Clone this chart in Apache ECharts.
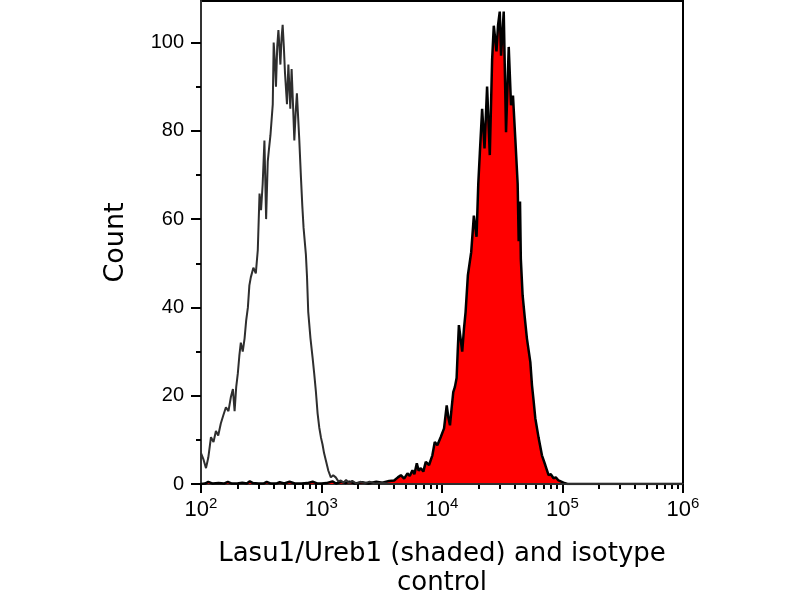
<!DOCTYPE html>
<html>
<head>
<meta charset="utf-8">
<script src="https://cdn.jsdelivr.net/npm/echarts@6/dist/echarts.min.js"></script>
<style>html,body{margin:0;padding:0;background:#fff}#c{width:800px;height:600px}</style>
</head>
<body>
<div id="c"></div>
<script>
// Isotype control (unshaded outline): intensity, count
const isoX = [100,105,110,115,121,127,133,139,146,153,161,169,177,184,190,196,202,208,214,222,230,237,245,252,259,272,285,296,306,315,325,336,347,358,367,377,394,401,410,419,429,439,456,466,476,487,498,517,531,551,565,580,595,610,625,654,675,693,710,742,758,776,810,843,870,898,928,958,990,1019,1050,1086,1140,1195,1250,1313,1380,1445,1520,1600,1700,1800,1950,2100,2300,2500,2800,3200,3700,5000,1000000];
const isoY = [7.0,5.5,3.6,6,10.6,9.5,12,11,13.7,15.5,17.4,16.5,19.7,21.5,16.5,22,25,29,32,30,33,37,40,45,46.8,49,47.7,53,65.8,62,68,77.8,60,73,76,79,86,100,96,90,99,102.8,95,101,104,99,93,86,95,85,94,86,77.8,84,88.5,78,69.5,63,58,52,47,39,33,28.7,25,21,16,12.8,10.5,9,7,5.4,3,1.5,2,1.5,0.6,0.8,0.3,0.9,0.2,0.7,0.1,0.5,0.2,0.5,0.1,0.3,0,0,0];
// Lasu1/Ureb1 (shaded): intensity, count
const posX = [100,108,115,125,140,155,167,180,200,220,240,254,270,300,330,351,380,420,450,490,543,600,680,760,845,930,1000,1100,1232,1320,1460,1580,1700,1900,2170,2450,2850,3200,3640,4009,4300,4557,4850,5170,5400,5685,5900,6180,6400,6670,7000,7335,7810,8320,8710,9150,9750,10400,10940,11300,11650,12000,12400,12800,13220,13500,13810,14720,15200,15700,16400,17470,18380,19350,20000,20610,21530,22540,23670,24930,26050,26900,28320,29200,30150,30910,32530,33990,35790,37400,38820,40620,42450,43280,44400,45100,46680,48500,50650,54080,55800,57500,59460,63400,67510,71940,76620,80000,84280,88000,92660,101900,110000,1000000];
const posY = [0,0.1,0.5,0.1,0.2,0.1,0.5,0.1,0.1,0.3,0.1,0.6,0.2,0.1,0.1,0.5,0.1,0.1,0.4,0.1,0.5,0.1,0.1,0.2,0.5,0.1,0.1,0.2,0.6,0.1,0.5,0.2,0.5,0.1,0.4,0.1,0.5,0.3,0.7,0.8,1.5,2,1.2,2.4,1.8,3.1,2.2,4.7,3.0,3.6,2.8,5,4.3,6.5,9.5,8.8,10.6,12.6,17.8,15,13.3,17,20.8,22,24,30,36,30,35,39,47.3,52.5,60.8,56,68,75,85,76,90,74.5,96,103.8,98,104,107,97,107,79.7,99,85.8,88,78,68,55,64,51,42.7,38,33,27.6,22.4,19,14.9,10.4,6.5,4.3,2,2.2,1.3,1.5,0.8,0.3,0,0];
const yMajorTicks = [0,20,40,60,80,100];
const yMinorTicks = [10,30,50,70,90];

const xMinor = [];
for (let d = 2; d < 6; d++) for (let k = 2; k <= 9; k++) xMinor.push(Math.log10(k * Math.pow(10, d)));

const zip = (a, b) => a.map((v, i) => [v, b[i]]);
const chart = echarts.init(document.getElementById('c'));
chart.setOption({
  animation: false,
  backgroundColor: '#fff',
  grid: { left: 201, right: 117, top: 1, bottom: 116, outerBoundsMode: 'none', containLabel: false, show: true, borderColor: '#000', borderWidth: 2, backgroundColor: 'transparent' },
  xAxis: [{
    type: 'log', logBase: 10, min: 100, max: 1000000,
    position: 'bottom',
    name: 'Lasu1/Ureb1 (shaded) and isotype\ncontrol',
    nameLocation: 'middle', nameGap: 56,
    nameTextStyle: { fontFamily: 'DejaVu Sans', fontSize: 26, color: '#000', lineHeight: 29 },
    axisLine: { show: true, lineStyle: { color: '#333', width: 2 } },
    axisTick: { show: true, inside: false, length: 9, lineStyle: { color: '#000', width: 2 } },
    minorTick: { show: false },
    splitLine: { show: false },
    axisLabel: {
      margin: 12,
      formatter: v => '{b|10}{s|' + Math.round(Math.log10(v)) + '}',
      rich: {
        b: { fontFamily: 'Liberation Sans', fontSize: 22, color: '#000', verticalAlign: 'bottom', lineHeight: 25 },
        s: { fontFamily: 'Liberation Sans', fontSize: 15, color: '#000', verticalAlign: 'top', lineHeight: 25 }
      }
    }
  }, {
    type: 'value', min: 2, max: 6, position: 'bottom',
    axisLine: { show: false },
    axisTick: { show: true, length: 5, customValues: xMinor, lineStyle: { color: '#000', width: 2 } },
    axisLabel: { show: false },
    splitLine: { show: false }
  }],
  yAxis: [{
    type: 'value', min: 0, max: 109.4, position: 'left',
    name: 'Count', nameLocation: 'middle', nameGap: 72,
    nameTextStyle: { fontFamily: 'DejaVu Sans', fontSize: 27, color: '#000' },
    axisLine: { show: true, lineStyle: { color: '#333', width: 2 } },
    axisTick: { show: true, length: 10, customValues: yMajorTicks, lineStyle: { color: '#000', width: 2 } },
    axisLabel: { margin: 17, customValues: yMajorTicks, fontFamily: 'Liberation Sans', fontSize: 20, color: '#000' },
    splitLine: { show: false }
  }, {
    type: 'value', min: 0, max: 109.4, position: 'left',
    axisLine: { show: false },
    axisTick: { show: true, length: 5, customValues: yMinorTicks, lineStyle: { color: '#000', width: 2 } },
    axisLabel: { show: false },
    splitLine: { show: false }
  }],
  series: [{
    type: 'line', xAxisIndex: 0, yAxisIndex: 0,
    data: zip(posX, posY), showSymbol: false,
    lineStyle: { color: '#000', width: 2.5 },
    areaStyle: { color: '#ff0000', opacity: 1 },
    z: 2
  }, {
    type: 'line', xAxisIndex: 0, yAxisIndex: 0,
    data: zip(isoX, isoY), showSymbol: false,
    lineStyle: { color: '#2e2e2e', width: 2 },
    z: 3
  }]
});
</script>
</body>
</html>
